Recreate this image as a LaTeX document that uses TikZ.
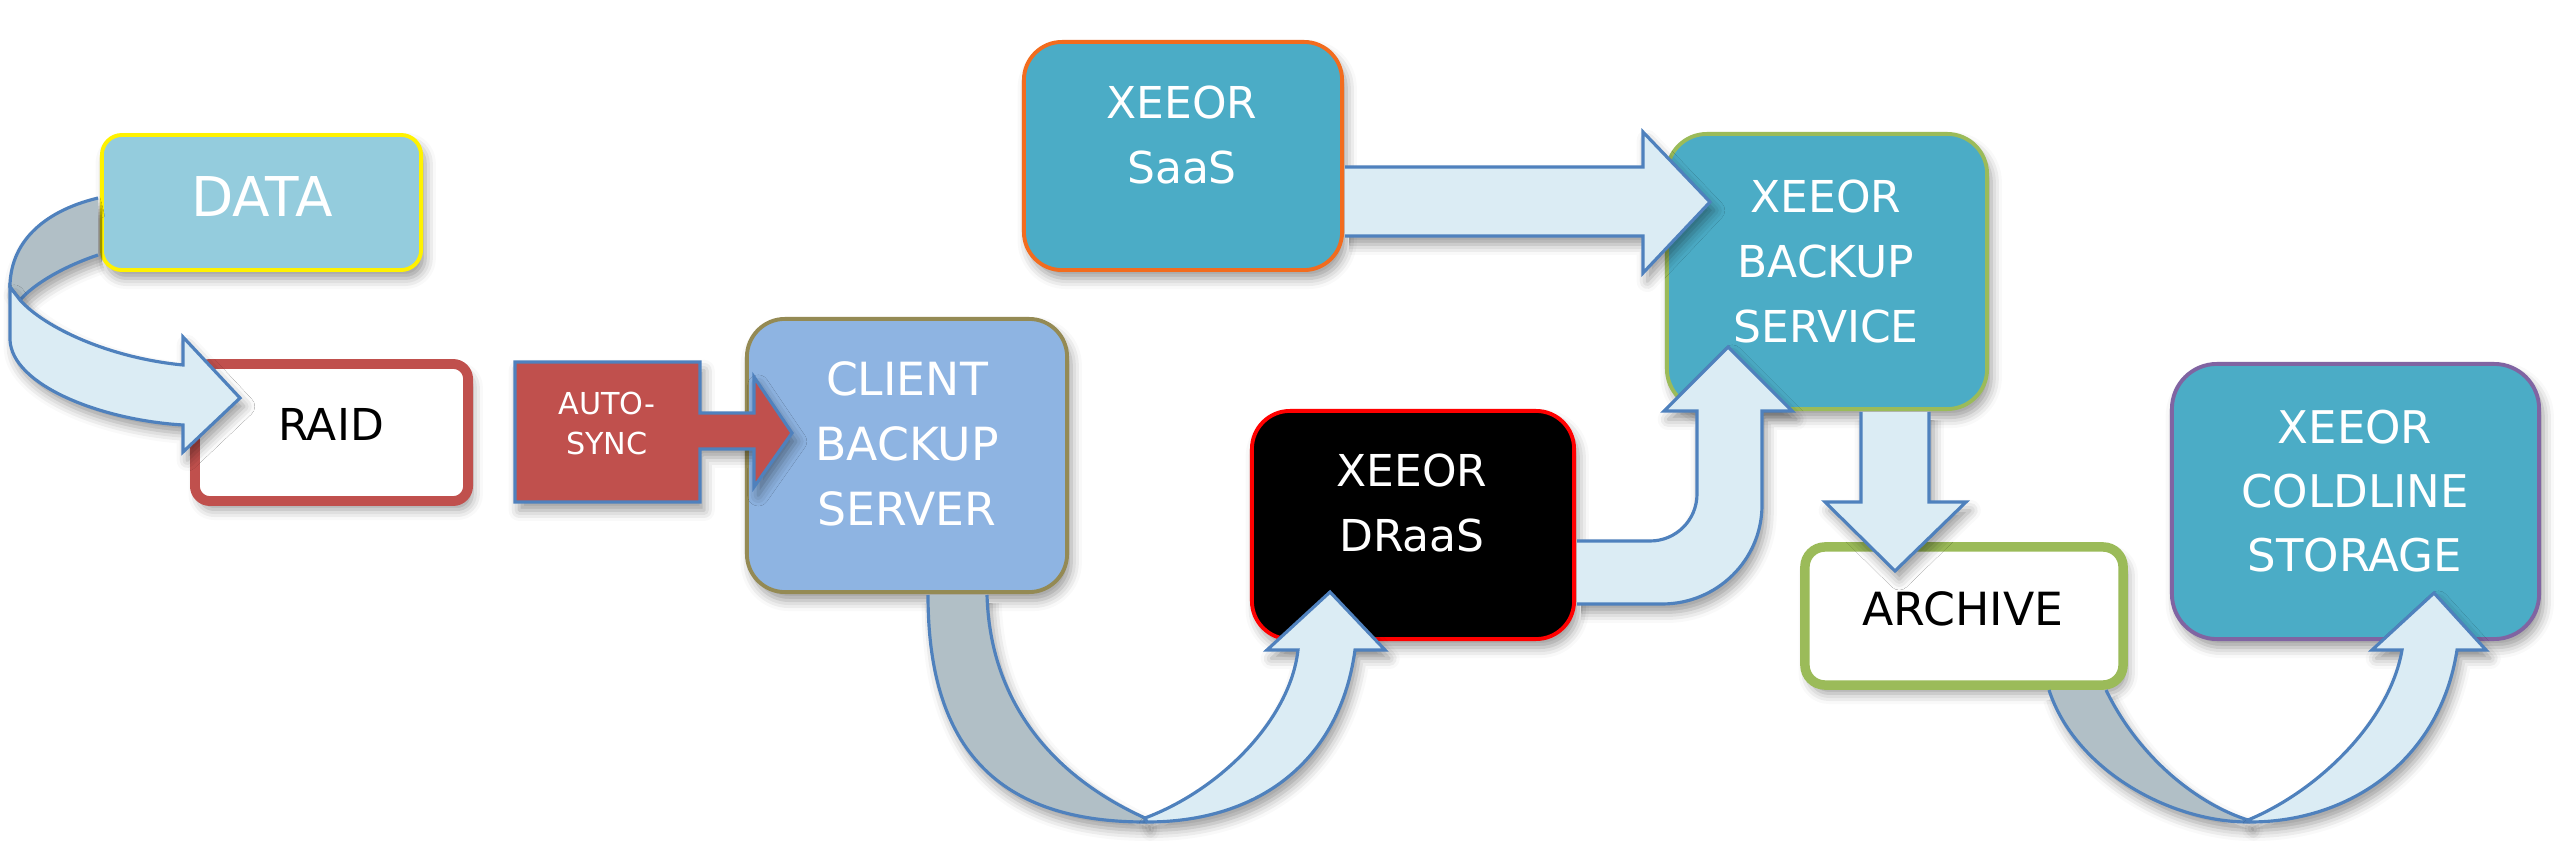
\documentclass[tikz,border=0pt]{standalone}
\usepackage{fontspec}
\setmainfont{DejaVu Sans}
\usetikzlibrary{shadows.blur}
\definecolor{aqua}{RGB}{75,172,198}
\definecolor{dataC}{RGB}{148,204,221}
\definecolor{clientC}{RGB}{142,180,226}
\definecolor{oliveC}{RGB}{148,138,84}
\definecolor{redC}{RGB}{192,80,77}
\definecolor{greenC}{RGB}{155,187,89}
\definecolor{purpleC}{RGB}{128,100,162}
\definecolor{orangeC}{RGB}{242,108,30}
\definecolor{arrowB}{RGB}{79,129,189}
\definecolor{arrowF}{RGB}{219,236,244}
\definecolor{arrowG}{RGB}{177,191,198}
\tikzset{
  shad/.style={blur shadow={shadow xshift=1.2pt, shadow yshift=-2.4pt, shadow blur radius=3pt, shadow opacity=40}},
  boxnode/.style={draw, shape=rectangle, inner sep=0pt, shad},
  fat/.style={draw=arrowB, line width=0.9pt, fill=arrowF, line join=miter, shad},
  fatback/.style={draw=arrowB, line width=0.9pt, fill=arrowG, shad},
  wlbl/.style={text=white, align=center, inner sep=0pt},
  blbl/.style={text=black, align=center, inner sep=0pt},
  mid/.style={font=\fontsize{12.5}{18.5}\selectfont},
}
\begin{document}
\begin{tikzpicture}[x=0.01cm,y=-0.01cm]
\useasboundingbox (0,0) rectangle (2560,858);
% boxes
\node[boxnode, draw=yellow, fill=dataC, line width=1.1pt, rounded corners=0.2cm, minimum width=3.19cm, minimum height=1.35cm] (data) at (261.5,202.5) {};
\node[boxnode, draw=redC, fill=white, line width=2.8pt, rounded corners=0.15cm, minimum width=2.73cm, minimum height=1.37cm] (raid) at (331.5,432.5) {};
\node[boxnode, draw=oliveC, fill=clientC, line width=1.1pt, rounded corners=0.38cm, minimum width=3.20cm, minimum height=2.73cm] (client) at (907,455.5) {};
\node[boxnode, draw=orangeC, fill=aqua, line width=1.1pt, rounded corners=0.38cm, minimum width=3.18cm, minimum height=2.28cm] (saas) at (1183,156) {};
\node[boxnode, draw=greenC, fill=aqua, line width=1.1pt, rounded corners=0.40cm, minimum width=3.20cm, minimum height=2.75cm] (backup) at (1827,271.5) {};
\node[boxnode, draw=red, fill=black, line width=1.1pt, rounded corners=0.38cm, minimum width=3.22cm, minimum height=2.28cm] (draas) at (1413,525) {};
\node[boxnode, draw=greenC, fill=white, line width=2.7pt, rounded corners=0.2cm, minimum width=3.18cm, minimum height=1.38cm] (archive) at (1964,616) {};
\node[boxnode, draw=purpleC, fill=aqua, line width=1.1pt, rounded corners=0.45cm, minimum width=3.67cm, minimum height=2.75cm] (cold) at (2355.5,501.5) {};
% auto-sync box with its arrow
\path[draw=arrowB, fill=redC, line width=0.9pt, line join=miter, shad] (515,362) -- (700,362) -- (700,413) -- (754,413) -- (754,377) -- (792,433) -- (754,487) -- (754,449) -- (700,449) -- (700,502) -- (515,502) -- cycle;
% DATA -> RAID
\path[fatback] (98,255) .. controls (65,266) and (35,283) .. (20,300) -- (10,287) .. controls (10,245) and (40,212) .. (98,198);
\path[fat] (10,287) -- (10,340) .. controls (12,385) and (100,420) .. (183,425) -- (183,452) -- (240,398) -- (183,337) -- (183,365) .. controls (110,358) and (45,328) .. (20,300) -- cycle;
% SaaS -> Backup
\path[fat] (1345,167) -- (1643,167) -- (1643,132) -- (1710,202) -- (1643,273) -- (1643,236) -- (1345,236);
% DRaaS -> Backup
\path[fat] (1577,541) -- (1650,541) .. controls (1676,541) and (1697,520) .. (1697,494) -- (1697,411) -- (1664,411) -- (1728,347) -- (1792,411) -- (1762,411) -- (1762,505) .. controls (1762,560) and (1717,604) .. (1662,604) -- (1577,604);
% Backup -> Archive
\path[fat] (1861,412) -- (1861,502) -- (1825,502) -- (1895,571) -- (1966,502) -- (1929,502) -- (1929,412);
% Client -> DRaaS
\path[fatback] (987,595) .. controls (990,700) and (1050,775) .. (1145,818) -- (1145,822) .. controls (990,822) and (928,740) .. (928,595);
\path[fat] (1145,818) .. controls (1220,790) and (1290,720) .. (1298,650) -- (1267,650) -- (1330,592) -- (1385,650) -- (1355,650) .. controls (1340,760) and (1260,822) .. (1147,822) -- cycle;
% Archive -> Coldline
\path[fatback] (2106,690) .. controls (2140,760) and (2200,805) .. (2248,820) -- (2248,822) .. controls (2170,822) and (2075,770) .. (2049,690);
\path[fat] (2248,820) .. controls (2320,790) and (2390,720) .. (2402,650) -- (2372,650) -- (2434,593) -- (2486,650) -- (2457,650) .. controls (2440,760) and (2350,822) .. (2250,822) -- cycle;
% texts
\node[wlbl, font=\fontsize{15.6}{18}\selectfont] (data-t) at (262,197) {DATA};
\node[blbl, font=\fontsize{12.5}{18}\selectfont] (raid-t) at (331,424) {RAID};
\node[wlbl, font=\fontsize{8.6}{11.4}\selectfont] (sync-t) at (607,423.5) {AUTO-\\SYNC};
\node[wlbl, font=\fontsize{13}{18.5}\selectfont] (client-t) at (907,444) {CLIENT\\BACKUP\\SERVER};
\node[wlbl, mid] (saas-t) at (1182,135) {XEEOR\\SaaS};
\node[wlbl, mid] (backup-t) at (1826,261.5) {XEEOR\\BACKUP\\SERVICE};
\node[wlbl, mid] (draas-t) at (1412,503) {XEEOR\\DRaaS};
\node[blbl, font=\fontsize{13}{18}\selectfont] (archive-t) at (1963,608.5) {ARCHIVE};
\node[wlbl, font=\fontsize{12.8}{18.3}\selectfont] (cold-t) at (2355,491) {XEEOR\\COLDLINE\\STORAGE};
\end{tikzpicture}
\end{document}
